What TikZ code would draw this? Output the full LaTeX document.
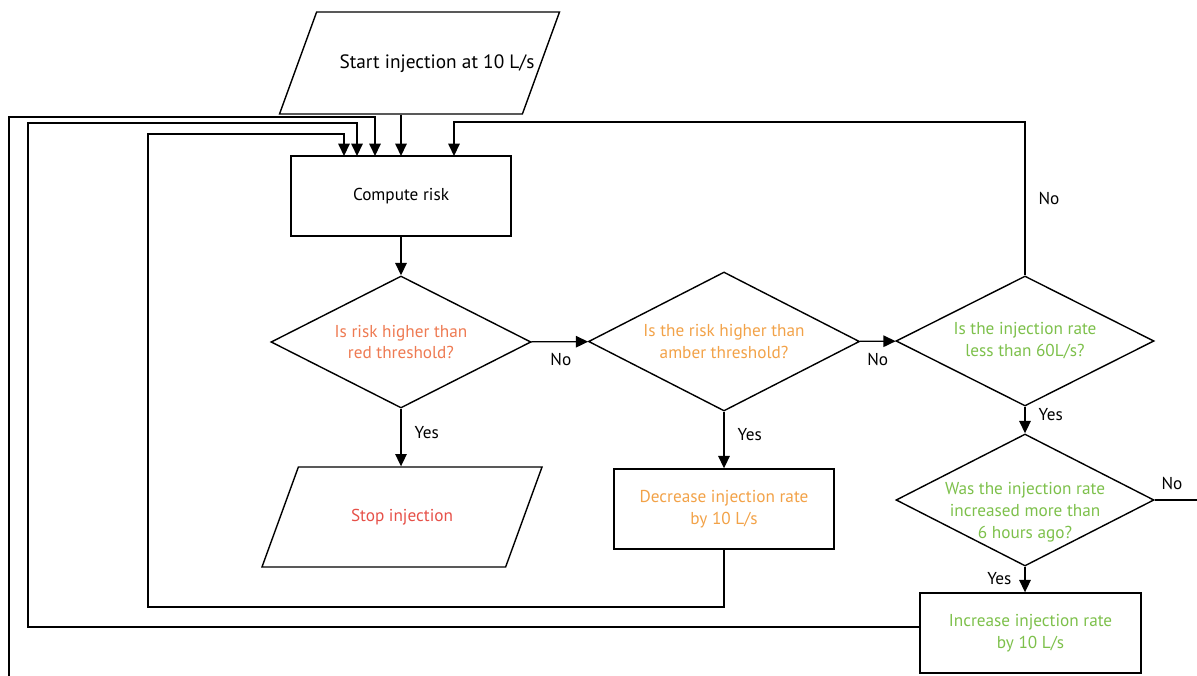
\documentclass[tikz,border=0pt]{standalone}
\usepackage{fontspec}
\setmainfont{PT Sans}
\usepackage{tikz}
\usetikzlibrary{arrows.meta,shapes.geometric}

\definecolor{redthr}{RGB}{238,122,82}
\definecolor{stopred}{RGB}{230,80,72}
\definecolor{amber}{RGB}{242,162,72}
\definecolor{grn}{RGB}{125,192,75}

\begin{document}
\begin{tikzpicture}[
		font=\fontsize{9.8}{12.5}\selectfont,
		line width=0.8pt,
		box/.style={draw, rectangle, minimum width=4.4cm, minimum height=1.6cm, align=center},
		io/.style={draw, trapezium, trapezium left angle=70, trapezium right angle=110, trapezium stretches body=true, inner ysep=0.84cm, minimum width=5.6cm, align=center},
		test/.style={draw, diamond, shape aspect=2, inner sep=0pt, minimum width=5.2cm, minimum height=2.64cm, align=center},
		arr/.style={-{Triangle[length=7pt,width=6.5pt]}}
	]
		\useasboundingbox (0,0) rectangle (23.94,-13.52);
		
		% Set the start, the risk box and the stop
		\node[io, inner ysep=1.02cm] (start) at (8.39,-1.26) {};
		\node[font=\fontsize{11}{13}\selectfont] (starttext) at (8.74,-1.28) {Start injection at 10 L/s};
		\node[box] (comp) at (8.02,-3.92) {Compute risk};
		\node[io, text=stopred] (stop) at (8.04,-10.34) {Stop injection};
		
		% Set the tests
		\node[test, text=redthr] (d1) at (8.02,-6.84) {Is risk higher than\\red threshold?};
		\node[test, text=amber, minimum width=5.42cm, minimum height=2.78cm] (d2) at (14.48,-6.83) {Is the risk higher than\\amber threshold?};
		\node[test, text=grn, minimum width=5.16cm, minimum height=2.6cm] (d3) at (20.5,-6.82) {Is the injection rate\\less than 60L/s?};
		\node[test, minimum width=5.16cm] (d4) at (20.5,-10.0) {};
		\node[text=grn, align=center] (d4text) at (20.5,-10.24) {Was the injection rate\\increased more than\\6 hours ago?};
		
		% Set the rate changes
		\node[box, text=amber] (dec) at (14.48,-10.18) {Decrease injection rate\\by 10 L/s};
		\node[box, text=grn, minimum width=4.42cm] (inc) at (20.61,-12.66) {Increase injection rate\\by 10 L/s};
		
		% Set the entry points on top of the risk box and the cut ends
		\foreach \i/\x in {1/6.88,2/7.14,3/7.5,4/8.02,5/9.08}
		\coordinate (e\i) at (\x,-3.12);
		\coordinate (low) at (0.18,-13.52);
		\coordinate (right) at (23.94,-10.0);
		
		% Connect the boxes
		\draw[arr] (start.south -| e4) -- (e4);
		\draw[arr] (comp) -- (d1);
		\draw[arr] (d1) -- node[below=3pt, pos=0.52] {No} (d2);
		\draw[arr] (d2) -- node[below=3pt] {No} (d3);
		\draw[arr] (d1) -- node[right=4pt, pos=0.41] {Yes} (stop.north -| d1);
		\draw[arr] (d2) -- node[right=4pt, pos=0.41] {Yes} (dec);
		\draw[arr] (d3) -- node[right=4pt, pos=0.3] {Yes} (d4);
		\draw[arr] (d4.south) -- node[left=4pt, pos=0.45] {Yes} (d4.south |- inc.north);
		\draw (d4.east) -- node[above=2pt, pos=0.41] {No} (right);
		
		% Loops back to the risk box
		\draw[arr] (d3.north) -- node[right=4pt] {No} (20.5,-2.44) -| (e5);
		\draw[arr] (dec.south) |- (2.96,-12.14) -- (2.96,-2.68) -| (e1);
		\draw[arr] ([yshift=0.12cm]inc.west) -| (0.56,-2.46) -| (e2);
		\draw[arr] (low) -- (0.18,-2.34) -| (e3);
		
	\end{tikzpicture}
\end{document}
